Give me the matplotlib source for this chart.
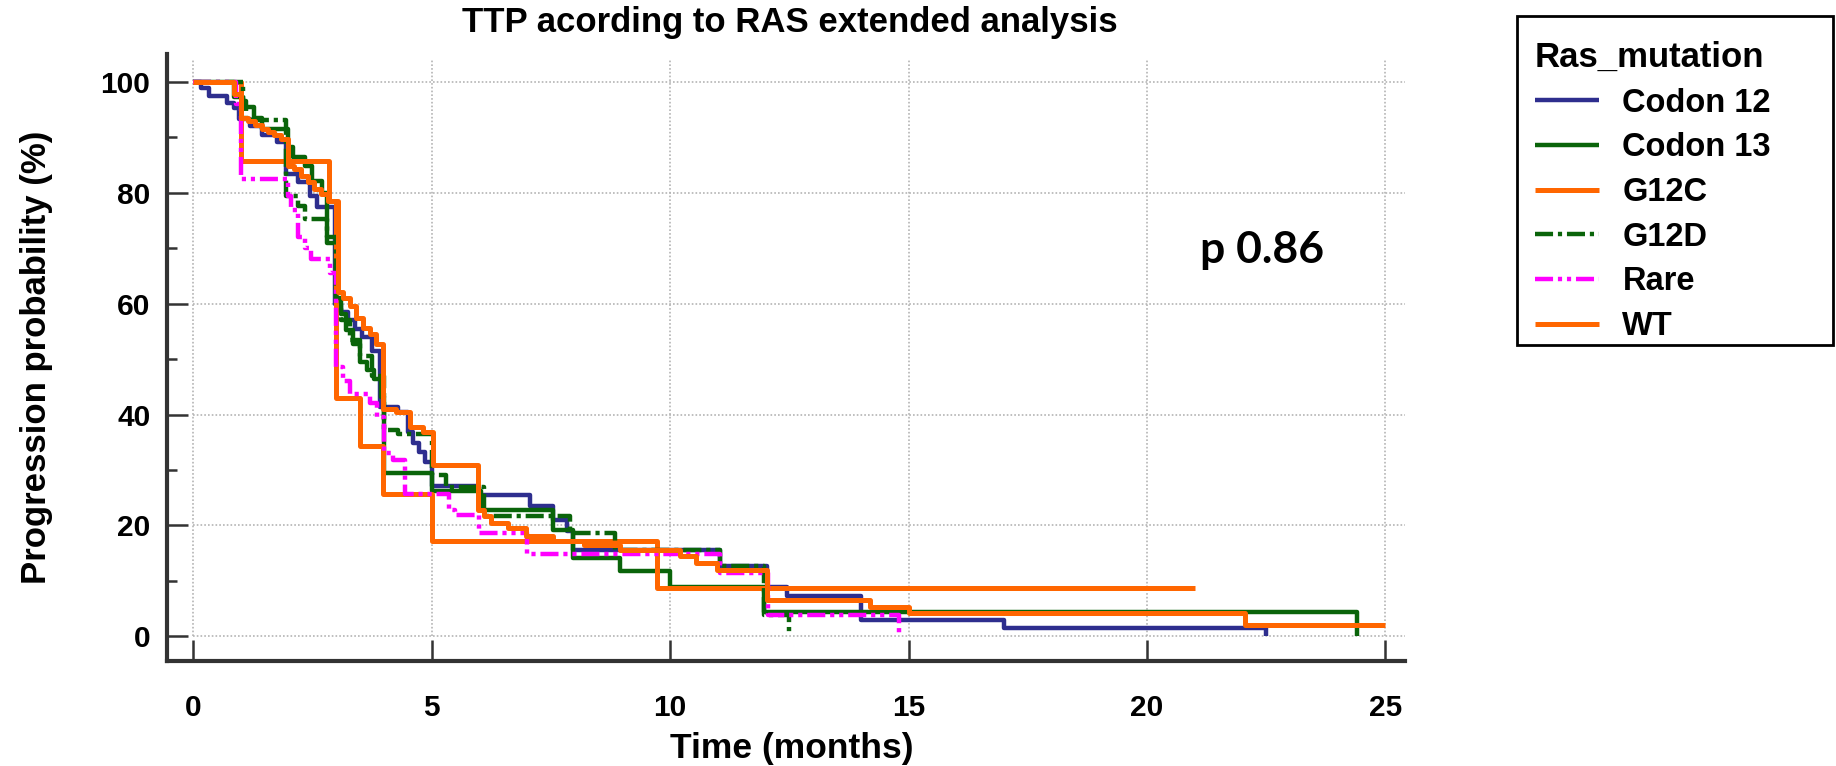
import matplotlib
matplotlib.use('Agg')
import matplotlib.pyplot as plt
from matplotlib.patches import Rectangle

plt.rcParams['font.family'] = ['Liberation Sans', 'DejaVu Sans']
plt.rcParams['font.weight'] = 'bold'
plt.rcParams['lines.scale_dashes'] = False

# ---- data (months, %) ----
groups = ['Codon 12', 'Codon 13', 'G12C', 'G12D', 'Rare', 'WT']

codon12_t = [0, 0.16, 0.34, 0.72, 0.86, 0.96, 1.2, 1.45, 1.75, 1.94, 2.2, 2.45, 2.6,
             2.97, 3.1, 3.25, 3.4, 3.55, 3.75, 3.92, 4.3, 4.5, 4.62, 4.74, 4.86, 5.0,
             6.0, 7.06, 7.55, 7.83, 7.97, 11.05, 12.03, 12.45, 14.0, 17.0, 22.5]
codon12_s = [100, 98.9, 97.4, 96.2, 95.3, 93.4, 92.0, 90.5, 89.2, 83.5, 82.0, 79.5, 77.5,
             60.0, 58.5, 57.0, 55.5, 54.0, 51.5, 41.3, 40.4, 36.8, 34.9, 33.2, 31.4, 27.1,
             25.5, 23.4, 21.0, 18.9, 15.6, 12.6, 8.9, 7.2, 3.0, 1.4, 0]

codon13_t = [0, 0.86, 1.05, 1.28, 1.45, 2.0, 2.1, 2.35, 2.5, 2.7, 2.8, 3.0, 3.1, 3.2,
             3.35, 3.5, 3.65, 3.8, 3.95, 4.0, 5.0, 6.03, 7.55, 7.97, 8.95, 10.0, 11.97, 24.4]
codon13_s = [100, 97.3, 95.5, 93.5, 91.5, 88.2, 86.4, 84.9, 82.2, 80.0, 71.0, 60.0, 58.1, 55.3,
             52.7, 49.5, 48.0, 46.4, 43.1, 29.5, 26.2, 22.8, 19.2, 14.1, 11.7, 8.8, 4.4, 0]

g12c_t = [0, 1.0, 2.85, 3.0, 3.49, 3.98, 5.0, 9.72, 21.0]
g12c_s = [100, 85.7, 78.6, 42.9, 34.3, 25.7, 17.1, 8.6, 8.6]

g12d_t = [0, 1.05, 1.1, 1.94, 2.2, 2.35, 2.8, 3.0, 3.1, 3.3, 3.5, 3.75, 4.0, 4.3,
          5.0, 5.3, 6.1, 7.9, 8.85, 11.05, 11.97, 12.5]
g12d_s = [100, 96.6, 93.1, 79.5, 77.6, 75.2, 72.0, 61.0, 57.0, 53.5, 50.5, 47.0, 37.2, 36.5,
          29.0, 27.0, 21.6, 18.6, 15.6, 12.6, 3.8, 0]

rare_t = [0, 0.9, 1.0, 2.0, 2.05, 2.2, 2.35, 2.47, 2.88, 3.0, 3.14, 3.3, 3.7, 3.85,
          4.0, 4.2, 4.45, 5.37, 5.5, 6.0, 7.0, 11.05, 12.05, 14.8]
rare_s = [100, 96.0, 82.5, 79.5, 77.0, 72.0, 70.0, 68.0, 65.5, 48.6, 46.0, 43.7, 42.0, 39.5,
          33.0, 31.7, 25.7, 22.8, 21.9, 18.6, 14.9, 11.4, 3.8, 0]

wt_t = [0, 0.85, 1.0, 1.16, 1.3, 1.44, 1.58, 1.7, 1.84, 1.98, 2.12, 2.26, 2.4, 2.54,
        2.68, 2.82, 3.03, 3.14, 3.28, 3.42, 3.56, 3.7, 3.84, 3.98, 4.26, 4.54, 4.82,
        5.04, 5.97, 6.1, 6.25, 6.6, 6.99, 7.55, 8.2, 8.95, 10.2, 10.55, 10.98, 12.03,
        14.2, 15.0, 22.06, 25.0]
wt_s = [100, 97.8, 93.5, 92.9, 92.2, 91.6, 91.0, 90.4, 89.8, 84.9, 84.3, 83.1, 81.9, 80.7,
        79.8, 78.6, 62.2, 61.0, 59.5, 57.5, 55.7, 54.5, 52.7, 41.0, 40.4, 37.7, 36.8,
        30.8, 22.8, 21.6, 20.4, 19.5, 18.0, 17.1, 16.5, 15.6, 14.4, 13.2, 12.0, 6.5,
        5.3, 4.2, 2.0, 2.0]

series = [(codon12_t, codon12_s), (codon13_t, codon13_s), (g12c_t, g12c_s),
          (g12d_t, g12d_s), (rare_t, rare_s), (wt_t, wt_s)]

colors = ['#2E2E8E', '#0A640A', '#FF6600', '#0A640A', '#FF00FF', '#FF6600']
styles = ['-', '-', '-', (0, (13, 3.5, 3, 3.5)), (0, (13, 3.5, 3, 3.5, 3, 3.5)), '-']
widths = [3.2, 3.2, 3.6, 3.2, 3.2, 3.6]

xticks = [0, 5, 10, 15, 20, 25]
yticks = [0, 20, 40, 60, 80, 100]
yminor = [10, 30, 50, 70, 90]

fig = plt.figure(figsize=(18.36, 7.66), dpi=100)
ax = fig.add_axes([0.091, 0.137, 0.674, 0.792])

# dotted grid, only inside the data range
ax.hlines(yticks, 0, 25.4, colors='#b4b4b4', linestyles=(0, (1.2, 1.5)), lw=1.2, zorder=0)
ax.vlines(xticks, 0, 104, colors='#b4b4b4', linestyles=(0, (1.2, 1.5)), lw=1.2, zorder=0)

handles = []
for (t, s), name, c, ls, lw in zip(series, groups, colors, styles, widths):
    ln, = ax.step(t, s, where='post', color=c, linestyle=ls, lw=lw, label=name,
                  solid_capstyle='butt')
    handles.append(ln)

ax.set_xlim(-0.545, 25.4)
ax.set_ylim(-4.5, 105)
ax.set_xticks(xticks)
ax.set_yticks(yticks)
ax.set_yticks(yminor, minor=True)

for side in ['top', 'right']:
    ax.spines[side].set_visible(False)
for side in ['left', 'bottom']:
    ax.spines[side].set_linewidth(3)
    ax.spines[side].set_color('#333333')

ax.tick_params(which='major', direction='in', length=15, width=1.8, color='#333333',
               labelsize=21.5)
ax.tick_params(axis='y', which='minor', direction='in', length=7.5, width=1.8, color='#333333')
ax.tick_params(axis='y', which='major', pad=12)
ax.tick_params(axis='x', which='major', pad=24)

ax.set_xlabel('Time (months)', fontsize=25.5, fontweight='bold')
ax.set_ylabel('Progression probability (%)', fontsize=25, fontweight='bold')
ax.xaxis.set_label_coords(0.505, -0.117)
ax.yaxis.set_label_coords(-0.092, 0.5)

fig.text(0.43, 0.971, 'TTP acording to RAS extended analysis', fontsize=25,
         fontweight='bold', ha='center', va='center')

fig.text(1262 / 1836, 1 - 250 / 766, 'p 0.86', family=['Lato', 'DejaVu Sans'],
         fontweight='bold', fontsize=32, ha='center', va='center')

# legend box drawn separately so the padding matches the reference
fig.patches.append(Rectangle((1517 / 1836, 1 - 345 / 766), 316 / 1836, 329 / 766,
                             transform=fig.transFigure, fill=False, edgecolor='black',
                             linewidth=2))
leg = fig.legend(handles=handles, loc='upper left',
                 bbox_to_anchor=(1517 / 1836, 1 - 23 / 766),
                 borderaxespad=0, title='Ras_mutation', alignment='left',
                 prop=dict(family='Liberation Sans', weight='bold', size=23.5),
                 title_fontproperties=dict(family='Liberation Sans', weight='bold', size=25),
                 handlelength=1.96, handletextpad=0.72, labelspacing=0.42,
                 borderpad=0.55, frameon=False)

fig.savefig('out.png', dpi=100)
